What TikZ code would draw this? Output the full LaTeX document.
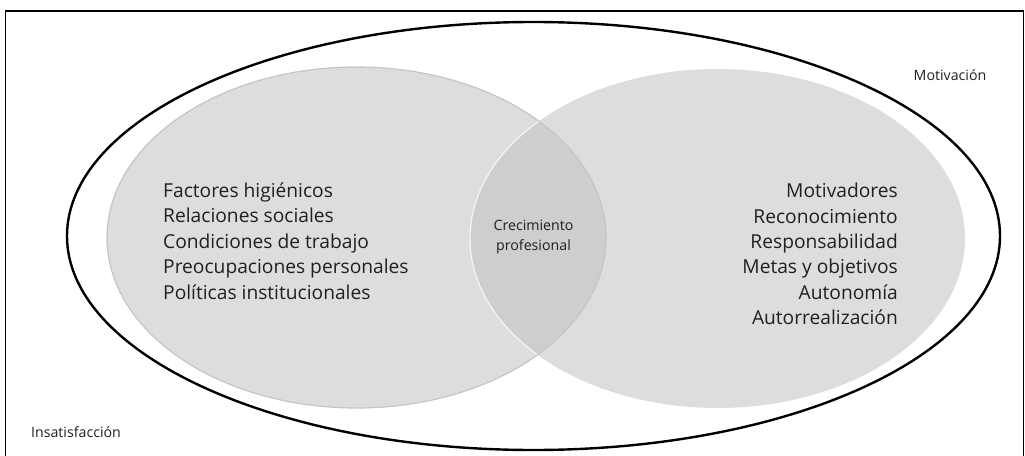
\documentclass[tikz,border=0pt]{standalone}
\usepackage{fontspec}
\setmainfont{Open Sans}
\definecolor{ink}{HTML}{231F20}
\definecolor{setfill}{HTML}{DCDDDF}
\definecolor{overlapfill}{HTML}{CDCED0}
\definecolor{setedge}{HTML}{C4C5C7}
\begin{document}
\begin{tikzpicture}[x=1pt,y=-1pt,
  listtext/.style={inner sep=0pt,text=ink,font=\fontsize{19.2}{25.4}\selectfont},
  smalltext/.style={inner sep=0pt,text=ink,font=\fontsize{14.2}{20}\selectfont}]
\useasboundingbox (0,0) rectangle (1025,455);
\begin{scope}
\clip (0,0) rectangle (1025,455);
\draw[line width=1.4pt,black] (5.5,470) -- (5.5,11) -- (1023.5,11) -- (1023.5,470);
\end{scope}
% outer ellipse
\draw[line width=2.4pt,black] (533.5,236) ellipse [x radius=466.5, y radius=214];
% set ellipses
\fill[setfill] (356.5,237.5) ellipse [x radius=249.5, y radius=170.5];
\fill[setfill] (717.5,238.5) ellipse [x radius=247.5, y radius=169.5];
\begin{scope}
\clip (356.5,237.5) ellipse [x radius=249.5, y radius=170.5];
\fill[overlapfill] (717.5,238.5) ellipse [x radius=247.5, y radius=169.5];
\draw[white!70!setfill,line width=1.2pt] (717.5,238.5) ellipse [x radius=247.5, y radius=169.5];
\end{scope}
\draw[setedge,line width=1.2pt] (356.5,237.5) ellipse [x radius=249.5, y radius=170.5];
% texts
\node[listtext,anchor=west,align=left] (hyg) at (163,241)
  {Factores higiénicos\\Relaciones sociales\\Condiciones de trabajo\\Preocupaciones personales\\Políticas institucionales};
\node[listtext,anchor=east,align=right] (mot) at (898,254)
  {Motivadores\\Reconocimiento\\Responsabilidad\\Metas y objetivos\\Autonomía\\Autorrealización};
\node[smalltext,align=center] (crec) at (533.5,237) {Crecimiento\\profesional};
\node[smalltext,anchor=center] (motiv) at (950,75) {Motivación};
\node[smalltext,anchor=center] (insat) at (76,432) {Insatisfacción};
\end{tikzpicture}
\end{document}
